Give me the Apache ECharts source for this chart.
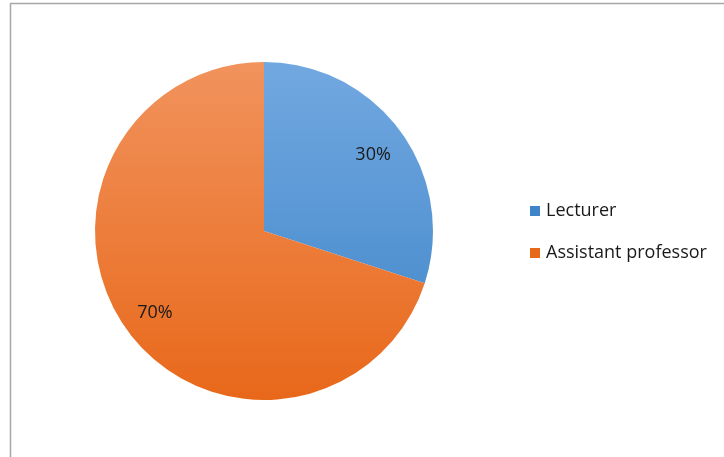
<!DOCTYPE html>
<html>
<head>
<meta charset="utf-8">
<script src="https://cdn.jsdelivr.net/npm/echarts@6/dist/echarts.min.js"></script>
<style>
  html, body { margin: 0; padding: 0; background: #fff; }
  #chart { width: 724px; height: 457px; }
</style>
</head>
<body>
<div id="chart"></div>
<script>
// Staff composition by academic rank
const categories = ['Lecturer', 'Assistant professor'];
const shares = [30, 70];
const labels = ['30%', '70%'];

// Top-to-bottom gradients for each slice
const sliceColors = [
  ['#72a8e0', '#3d84c8'],
  ['#f1935d', '#e8681a']
];

const cx = 264, cy = 231, R = 169;

function grad(pair) {
  return new echarts.graphic.LinearGradient(0, cy - R, 0, cy + R, [
    { offset: 0, color: pair[0] },
    { offset: 1, color: pair[1] }
  ], true);
}

const chart = echarts.init(document.getElementById('chart'), null, { renderer: 'canvas' });

const fontFamily = '"Open Sans", Lato, sans-serif';

chart.setOption({
  animation: false,
  graphic: [{
    type: 'rect',
    shape: { x: 10.5, y: 3.5, width: 740, height: 470 },
    style: { fill: 'none', stroke: '#a6a6a6', lineWidth: 1.5 },
    silent: true
  }],
  legend: {
    orient: 'vertical',
    left: 530,
    top: 202,
    padding: 0,
    icon: 'rect',
    itemWidth: 10,
    itemHeight: 10,
    itemGap: 24,
    textStyle: { fontFamily: fontFamily, fontSize: 18, color: '#1a1a1a', lineHeight: 18, padding: [0, 0, 0, 1] },
    data: categories.map((c, i) => ({ name: c, itemStyle: { color: sliceColors[i][1] } }))
  },
  series: [
    {
      type: 'pie',
      center: [cx, cy],
      radius: R,
      startAngle: 90,
      clockwise: true,
      silent: true,
      label: { show: false },
      labelLine: { show: false },
      itemStyle: { borderWidth: 0 },
      data: categories.map((c, i) => ({
        name: c,
        value: shares[i],
        itemStyle: { color: grad(sliceColors[i]) }
      }))
    },
    {
      // label-only ring so the percentages sit at ~0.78 of the radius
      type: 'pie',
      center: [cx, cy],
      radius: R * 0.78 * 2,
      startAngle: 90,
      clockwise: true,
      silent: true,
      legendHoverLink: false,
      itemStyle: { color: 'rgba(0,0,0,0)' },
      label: {
        show: true,
        position: 'inside',
        fontFamily: fontFamily,
        fontSize: 18,
        color: '#1a1a1a',
        offset: [0, 3],
        formatter: p => labels[p.dataIndex]
      },
      labelLine: { show: false },
      data: categories.map((c, i) => ({ name: c + ' ', value: shares[i] }))
    }
  ]
});
</script>
</body>
</html>
